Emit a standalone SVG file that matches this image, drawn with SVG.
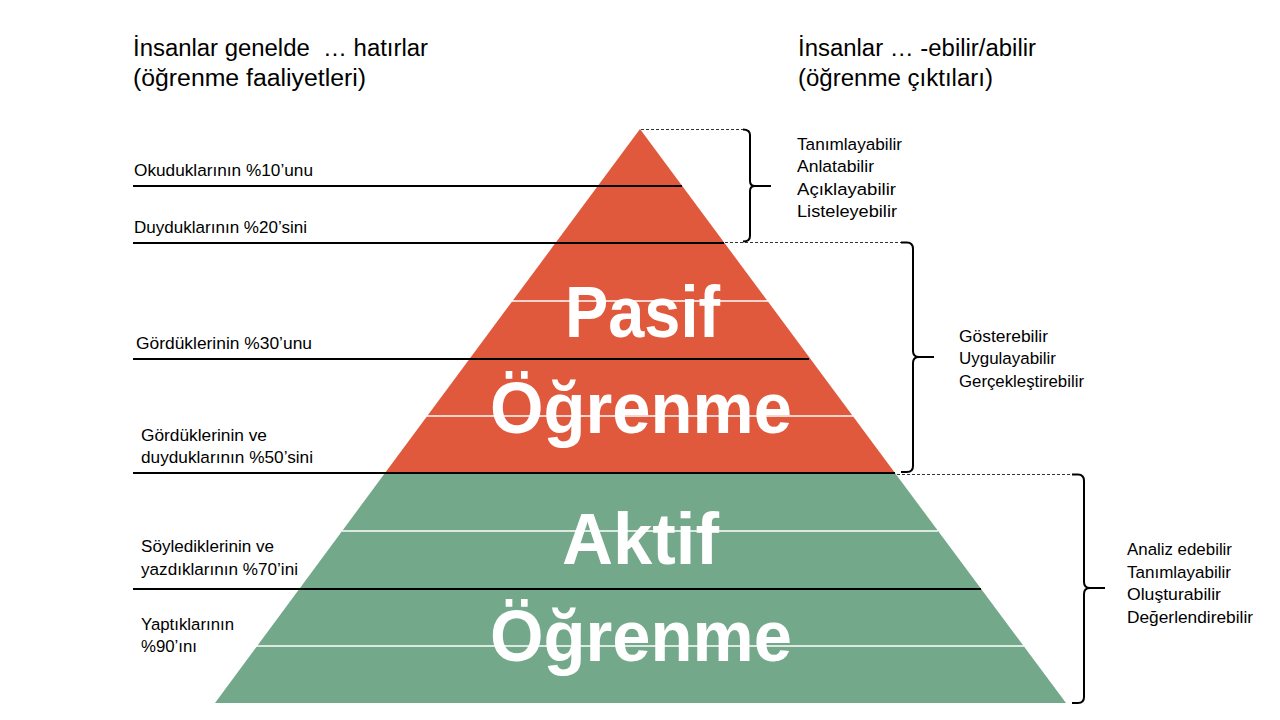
<svg xmlns="http://www.w3.org/2000/svg" width="1280" height="720" viewBox="0 0 1280 720">
<style>
.t{font-family:"Liberation Sans",Arial,sans-serif;fill:#000}
.h{font-size:23.5px}
.s{font-size:16.3px}
.big{font-family:"Liberation Sans",Arial,sans-serif;font-weight:bold;font-size:72px;fill:#fff}
.bl{stroke:#000;stroke-width:2;fill:none}
.wl{stroke:#fff;stroke-width:1.3;fill:none}
.dl{stroke:#333;stroke-width:1;stroke-dasharray:3,2;fill:none}
.br{stroke:#000;stroke-width:2;fill:none;stroke-linejoin:round}
</style>
<rect width="1280" height="720" fill="#fff"/>
<g id="pyramid">
<polygon id="pasif" points="640,129 895,473 385,473" fill="#E0593D"/>
<polygon id="aktif" points="385,473 895,473 1066,703 215,703" fill="#73A98A"/>
<text class="big" x="565" y="337" textLength="155" lengthAdjust="spacingAndGlyphs">Pasif</text>
<text class="big" x="490" y="433" textLength="302" lengthAdjust="spacingAndGlyphs">Öğrenme</text>
<text class="big" x="562" y="564" textLength="157" lengthAdjust="spacingAndGlyphs">Aktif</text>
<text class="big" x="490" y="661" textLength="302" lengthAdjust="spacingAndGlyphs">Öğrenme</text>
</g>
<g id="connectors">
<line class="wl" x1="512" y1="301" x2="768" y2="301"/>
<line class="wl" x1="427" y1="416" x2="853" y2="416"/>
<line class="wl" x1="342" y1="531" x2="938" y2="531"/>
<line class="wl" x1="256" y1="646" x2="1024" y2="646"/>
<line class="bl" x1="133" y1="186" x2="682" y2="186"/>
<line class="bl" x1="133" y1="243" x2="724" y2="243"/>
<line class="bl" x1="133" y1="359" x2="809" y2="359"/>
<line class="bl" x1="133" y1="473" x2="895" y2="473"/>
<line class="bl" x1="133" y1="589" x2="981" y2="589"/>
<line class="dl" x1="641" y1="129.5" x2="744" y2="129.5"/>
<line class="dl" x1="725" y1="242.5" x2="902" y2="242.5"/>
<line class="dl" x1="897" y1="474.5" x2="1072" y2="474.5"/>
<path class="br" d="M743,129.5 Q750,129.5 750,135 L750,181 Q750,186 755,186 L771,186 M755,186 Q750,186 750,191 L750,236 Q750,241.5 743,241.5"/>
<path class="br" d="M901,242.5 L907,242.5 Q913,242.5 913,249 L913,351 Q913,357 919,357 L934,357 M919,357 Q913,357 913,363 L913,466 Q913,472 907,472 L901,472"/>
<path class="br" d="M1072,474.5 L1078,474.5 Q1084,474.5 1084,481 L1084,582 Q1084,588 1090,588 L1105,588 M1090,588 Q1084,588 1084,594 L1084,697 Q1084,703 1078,703 L1072,703"/>
</g>
<g id="headings">
<text class="t h" x="133" y="56" xml:space="preserve" textLength="295" lengthAdjust="spacingAndGlyphs">İnsanlar genelde  … hatırlar</text>
<text class="t h" x="133" y="86" textLength="233" lengthAdjust="spacingAndGlyphs">(öğrenme faaliyetleri)</text>
<text class="t h" x="798" y="56" textLength="238" lengthAdjust="spacingAndGlyphs">İnsanlar … -ebilir/abilir</text>
<text class="t h" x="798" y="86" textLength="195" lengthAdjust="spacingAndGlyphs">(öğrenme çıktıları)</text>
</g>
<g id="left-labels">
<text class="t s" x="134" y="176" textLength="179" lengthAdjust="spacingAndGlyphs">Okuduklarının %10’unu</text>
<text class="t s" x="134" y="233" textLength="173" lengthAdjust="spacingAndGlyphs">Duyduklarının %20’sini</text>
<text class="t s" x="136" y="349" textLength="176" lengthAdjust="spacingAndGlyphs">Gördüklerinin %30’unu</text>
<text class="t s" x="141" y="441" textLength="126" lengthAdjust="spacingAndGlyphs">Gördüklerinin ve</text>
<text class="t s" x="141" y="463" textLength="172" lengthAdjust="spacingAndGlyphs">duyduklarının %50’sini</text>
<text class="t s" x="141" y="552" textLength="133" lengthAdjust="spacingAndGlyphs">Söylediklerinin ve</text>
<text class="t s" x="141" y="575" textLength="157" lengthAdjust="spacingAndGlyphs">yazdıklarının %70’ini</text>
<text class="t s" x="141" y="630" textLength="93" lengthAdjust="spacingAndGlyphs">Yaptıklarının</text>
<text class="t s" x="141" y="652" textLength="56" lengthAdjust="spacingAndGlyphs">%90’ını</text>
</g>
<g id="right-labels">
<text class="t s" x="797" y="149.5" textLength="105" lengthAdjust="spacingAndGlyphs">Tanımlayabilir</text>
<text class="t s" x="797" y="172" textLength="77" lengthAdjust="spacingAndGlyphs">Anlatabilir</text>
<text class="t s" x="797" y="194.5" textLength="99" lengthAdjust="spacingAndGlyphs">Açıklayabilir</text>
<text class="t s" x="797" y="217" textLength="100" lengthAdjust="spacingAndGlyphs">Listeleyebilir</text>
<text class="t s" x="959" y="341.5" textLength="89" lengthAdjust="spacingAndGlyphs">Gösterebilir</text>
<text class="t s" x="959" y="364" textLength="97" lengthAdjust="spacingAndGlyphs">Uygulayabilir</text>
<text class="t s" x="959" y="386.5" textLength="125" lengthAdjust="spacingAndGlyphs">Gerçekleştirebilir</text>
<text class="t s" x="1127" y="555" textLength="105" lengthAdjust="spacingAndGlyphs">Analiz edebilir</text>
<text class="t s" x="1127" y="577.5" textLength="104" lengthAdjust="spacingAndGlyphs">Tanımlayabilir</text>
<text class="t s" x="1127" y="600" textLength="94" lengthAdjust="spacingAndGlyphs">Oluşturabilir</text>
<text class="t s" x="1127" y="622.5" textLength="126" lengthAdjust="spacingAndGlyphs">Değerlendirebilir</text>
</g>
</svg>
